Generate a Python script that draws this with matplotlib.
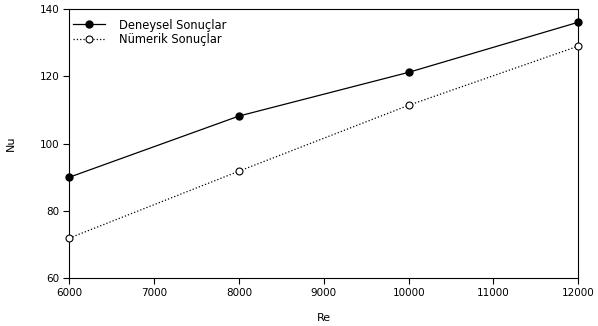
import matplotlib
matplotlib.use("Agg")
import matplotlib.pyplot as plt

plt.rcParams['font.family'] = ['DejaVu Sans']

re_vals = [6000, 8000, 10000, 12000]
nu_deneysel = [90, 108.2, 121.2, 136.1]
nu_numerik = [71.9, 91.8, 111.4, 129.0]

fig = plt.figure(figsize=(5.98, 3.26), dpi=100)
ax = fig.add_axes([0.116, 0.147, 0.851, 0.825])

ax.plot(re_vals, nu_deneysel, '-', color='black', lw=0.9, marker='o',
        ms=5, mfc='black', mec='black', label='Deneysel Sonuçlar', clip_on=False, zorder=3)
ax.plot(re_vals, nu_numerik, ':', color='black', lw=0.9, marker='o',
        ms=5, mfc='white', mec='black', mew=0.8, label='Nümerik Sonuçlar', clip_on=False, zorder=3)

ax.set_xlim(6000, 12000)
ax.set_ylim(60, 140)
ax.set_xticks(range(6000, 12001, 1000))
ax.set_yticks(range(60, 141, 20))
ax.tick_params(direction='out', length=4, width=0.8, labelsize=7.5, pad=3)
for s in ax.spines.values():
    s.set_linewidth(0.8)

ax.set_xlabel('Re', fontsize=8, labelpad=11)
ax.set_ylabel('Nu', fontsize=8, labelpad=17)

ax.legend(loc='upper left', bbox_to_anchor=(0.0, 0.978), frameon=False,
          fontsize=8.3, handlelength=2.8, handletextpad=1.2,
          labelspacing=0.1, borderaxespad=0.0, borderpad=0.3)

fig.savefig('out.png', dpi=100)
